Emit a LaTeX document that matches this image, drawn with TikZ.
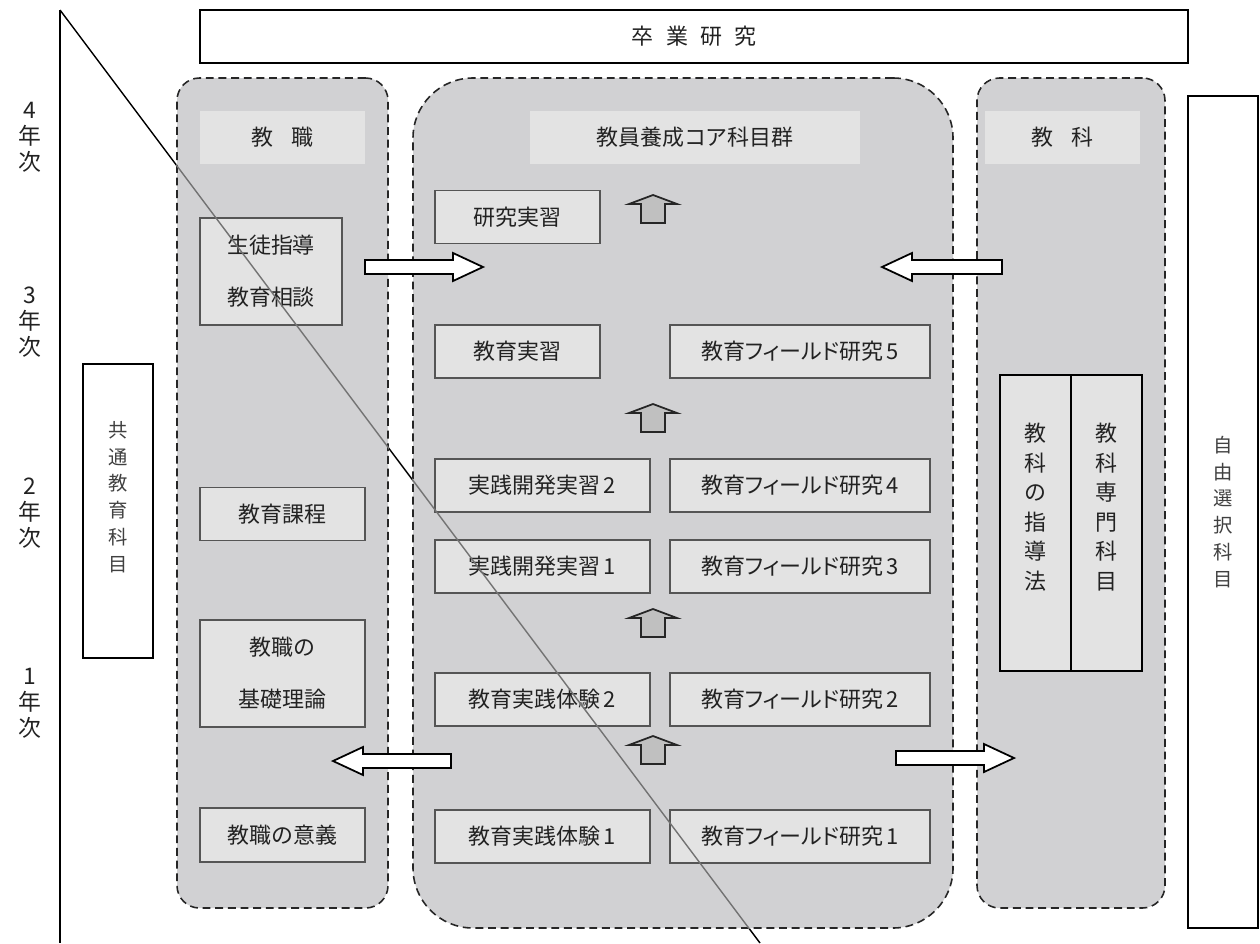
\documentclass[tikz,border=0pt]{standalone}
\usepackage{fontspec}
\setmainfont{Noto Sans CJK JP}
\newfontfamily\kana[RawFeature=+palt]{Noto Sans CJK JP}
\definecolor{panelgray}{HTML}{D1D1D3}
\definecolor{boxgray}{HTML}{E3E3E3}
\definecolor{upgray}{HTML}{C0C0C0}
\definecolor{bordergray}{HTML}{555555}
\definecolor{inkgray}{HTML}{222222}
\begin{document}
\begin{tikzpicture}[x=0.02cm,y=-0.02cm,
  every node/.style={font=\fontsize{12.5}{15}\selectfont, text=inkgray, inner sep=0pt},
  sz/.style 2 args={minimum width=#1*0.02cm, minimum height=#2*0.02cm},
  outerbox/.style={draw=black, line width=0.9pt, fill=white},
  panel/.style={draw=black!85, line width=0.9pt, dash pattern=on 4.5pt off 2.7pt, fill=panelgray},
  hdr/.style={fill=boxgray},
  ibox/.style={draw=bordergray, line width=1.1pt, fill=boxgray},
  kbox/.style={draw=black, line width=1pt, fill=boxgray},
  twoline/.style={align=center, font=\fontsize{12.5}{29.5}\selectfont},
  vtext/.style={align=center, font=\fontsize{11}{15.3}\selectfont, text=black!75},
  ktext/.style={align=center, font=\fontsize{12.5}{16.8}\selectfont},
  year/.style={align=center, font=\fontsize{13}{14.7}\selectfont},
  blk/.style={draw=black, line width=1pt, fill=white, line join=miter},
  uparr/.pic={\draw[line width=1pt, fill=upgray, draw=black!85, line join=miter]
     (-12,0) -- (-12,-19) -- (-24,-19) -- (0,-28) -- (24,-19) -- (12,-19) -- (12,0) -- cycle;}
]
\useasboundingbox (0,0) rectangle (1260,943);

% frame lines
\coordinate (vtop) at (60,10);
\coordinate (vbot) at (60,943);
\coordinate (dend) at (760,943);
\draw[line width=0.8pt] (vtop) -- (vbot);
\draw[line width=0.8pt] (vtop) -- (dend);

% year labels
\node[year] (y4) at (30,137) {4\\年\\次};
\node[year] (y3) at (30,322) {3\\年\\次};
\node[year] (y2) at (30,513) {2\\年\\次};
\node[year] (y1) at (30,703) {1\\年\\次};

% top and side boxes
\node[outerbox, sz={988}{53}] (sotsu) at (694,36.5) {卒\hspace{0.55em}業\hspace{0.55em}研\hspace{0.55em}究};
\node[outerbox, sz={70}{294}] (kyotsu) at (118,511) {};
\node[vtext] (kyotsuT) at (118,497) {共\\通\\教\\育\\科\\目};
\node[outerbox, sz={70}{832}] (jiyu) at (1223,512) {};
\node[vtext] (jiyuT) at (1223,512) {自\\由\\選\\択\\科\\目};

% panels
\node[panel, rounded corners=0.45cm, sz={211}{830}] (kP) at (282.5,493) {};
\node[panel, rounded corners=1.2cm, sz={540}{850}] (cP) at (683,503) {};
\node[panel, rounded corners=0.45cm, sz={188}{830}] (sP) at (1071,493) {};

% headers
\node[hdr, sz={165}{53}] (kH) at (282.5,137.5) {教\hspace{0.8em}職};
\node[hdr, sz={330}{53}] (cH) at (695,137.5) {教員養成コア科目群};
\node[hdr, sz={155}{53}] (sH) at (1062.5,137.5) {教\hspace{0.8em}科};

% left column
\node[ibox, sz={142}{107}, twoline] (seito) at (271,271.5) {生徒指導\\教育相談};
\node[ibox, sz={165}{53}] (katei) at (282.5,514) {教育課程};
\node[ibox, sz={165}{107}, twoline] (kiso) at (282.5,673.5) {教職の\\基礎理論};
\node[ibox, sz={165}{54}] (igi) at (282.5,835) {教職の意義};

% core column
\node[ibox, sz={165}{53}] (kenkyu) at (517.5,217) {研究実習};
\node[ibox, sz={165}{53}] (jisshu) at (517.5,351.5) {教育実習};
\node[ibox, sz={260}{53}] (f5) at (800,351.5) {教育{\kana フィールド}研究\hspace{0.15em}5};
\node[ibox, sz={215}{53}] (kai2) at (542.5,485.5) {実践開発実習\hspace{0.15em}2};
\node[ibox, sz={260}{53}] (f4) at (800,485.5) {教育{\kana フィールド}研究\hspace{0.15em}4};
\node[ibox, sz={215}{53}] (kai1) at (542.5,566.5) {実践開発実習\hspace{0.15em}1};
\node[ibox, sz={260}{53}] (f3) at (800,566.5) {教育{\kana フィールド}研究\hspace{0.15em}3};
\node[ibox, sz={215}{53}] (tai2) at (542.5,699.5) {教育実践体験\hspace{0.15em}2};
\node[ibox, sz={260}{53}] (f2) at (800,699.5) {教育{\kana フィールド}研究\hspace{0.15em}2};
\node[ibox, sz={215}{53}] (tai1) at (542.5,836.5) {教育実践体験\hspace{0.15em}1};
\node[ibox, sz={260}{53}] (f1) at (800,836.5) {教育{\kana フィールド}研究\hspace{0.15em}1};

% up arrows
\pic at (653,223) {uparr};
\pic at (653,432) {uparr};
\pic at (653,637) {uparr};
\pic at (653,764) {uparr};

% subject column
\node[kbox, sz={71}{296}] (shido) at (1035.5,523) {};
\node[kbox, sz={71}{296}] (senmon) at (1106.5,523) {};
\node[ktext] (shidoT) at (1035.5,507) {教\\科\\の\\指\\導\\法};
\node[ktext] (senmonT) at (1106.5,507) {教\\科\\専\\門\\科\\目};

% block arrows
\coordinate (a1) at (365,267);
\draw[blk] (a1) ++(0,-7) -- ++(88,0) -- ++(0,-7) -- ++(30,14) -- ++(-30,14) -- ++(0,-7) -- ++(-88,0) -- cycle;
\coordinate (a2) at (1002,267);
\draw[blk] (a2) ++(0,-7) -- ++(-90,0) -- ++(0,-7) -- ++(-30,14) -- ++(30,14) -- ++(0,-7) -- ++(90,0) -- cycle;
\coordinate (a3) at (451,761);
\draw[blk] (a3) ++(0,-7) -- ++(-88,0) -- ++(0,-7) -- ++(-30,14) -- ++(30,14) -- ++(0,-7) -- ++(88,0) -- cycle;
\coordinate (a4) at (896,758);
\draw[blk] (a4) ++(0,-7) -- ++(88,0) -- ++(0,-7) -- ++(30,14) -- ++(-30,14) -- ++(0,-7) -- ++(-88,0) -- cycle;

% diagonal seen through the panels
\begin{scope}
\clip (kP.north west) rectangle (kP.south east) (cP.north west) rectangle (cP.south east);
\draw[line width=0.8pt, black!55] (vtop) -- (dend);
\end{scope}
\end{tikzpicture}
\end{document}
